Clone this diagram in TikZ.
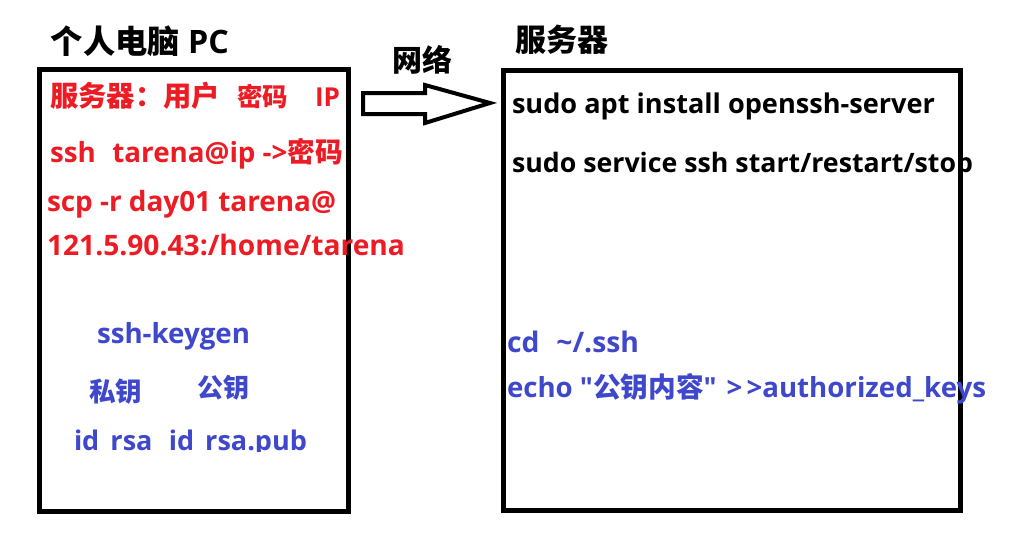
\documentclass[tikz,border=0pt]{standalone}
\usepackage{fontspec}
\usepackage{graphicx}
\newfontfamily\latin{Open Sans}
\newfontfamily\cjk{Noto Sans CJK SC}
\definecolor{pred}{RGB}{237,28,36}
\definecolor{pblue}{RGB}{63,72,204}
\newcommand\fitw[2]{\resizebox{#1pt}{!}{#2}}
\newcommand\fsz[1]{\fontsize{#1}{#1}\selectfont}
\begin{document}
\begin{tikzpicture}[x=1pt,y=-1pt,
  txt/.style={anchor=base west, inner sep=0pt, outer sep=0pt, font=\latin\bfseries\fsz{28}},
  redtxt/.style={txt, text=pred},
  bluetxt/.style={txt, text=pblue},
  blacktxt/.style={txt, text=black},
  frame/.style={draw=black, line width=5pt, inner sep=0pt},
  blockarrow/.style={draw=black, fill=white, line width=4pt, line join=miter, miter limit=10}]
\useasboundingbox[fill=white] (0,0) rectangle (1018,544);

% boxes
\node[frame, minimum width=308.5pt, minimum height=442pt] (pc) at (193.75,290.5) {};
\node[frame, minimum width=457pt, minimum height=440pt] (srv) at (731.5,290) {};

% titles
\node[blacktxt] (pct) at (51,53) {\fitw{178}{{\cjk 个人电脑} PC}};
\node[blacktxt] (net) at (392,71) {\fitw{60}{\cjk 网络}};
\node[blacktxt] (srvt) at (515,51) {\fitw{93}{\cjk 服务器}};

% arrow
\draw[blockarrow] (363,93) -- (425,93) -- (425,85) -- (490,103) -- (425,123) -- (425,114) -- (363,114) -- cycle;

% red texts
\node[redtxt] (r1a) at (50,106) {\fitw{170}{\cjk 服务器：用户}};
\node[redtxt] (r1b) at (237,106) {\fitw{51}{\cjk 密码}};
\node[redtxt] (r1c) at (315,106) {\fitw{25}{IP}};
\node[redtxt] (r2) at (50,162) {\fitw{293}{ssh\hspace{0.6em}tarena@ip ->{\cjk 密码}}};
\node[redtxt] (r3) at (47,211) {\fitw{289}{scp -r day01 tarena@}};
\node[redtxt] (r4) at (47,255) {\fitw{358}{121.5.90.43:/home/tarena}};

% blue texts left
\node[bluetxt] (b1) at (97,343) {\fitw{153}{ssh-keygen}};
\node[bluetxt] (b2) at (89,401) {\fitw{53}{\cjk 私钥}};
\node[bluetxt] (b3) at (197,397) {\fitw{52}{\cjk 公钥}};
\begin{scope}
\clip (60,420) rectangle (330,451);
\node[bluetxt] (b4) at (74,450) {\fitw{233}{id\_rsa\hspace{0.6em}id\_rsa.pub}};
\end{scope}

% black texts right
\node[blacktxt] (k1) at (512,113) {\fitw{423}{sudo apt install openssh-server}};
\node[blacktxt] (k2) at (512,172) {\fitw{461}{sudo service ssh start/restart/stop}};

% blue texts right
\node[bluetxt] (c1) at (507,352) {\fitw{132}{cd\hspace{0.6em}\textasciitilde/.ssh}};
\node[bluetxt] (c2) at (507,397) {\fitw{479}{echo "{\cjk 公钥内容}" \hspace{0.1em}>\hspace{0.15em}>authorized\_keys}};
\end{tikzpicture}
\end{document}
